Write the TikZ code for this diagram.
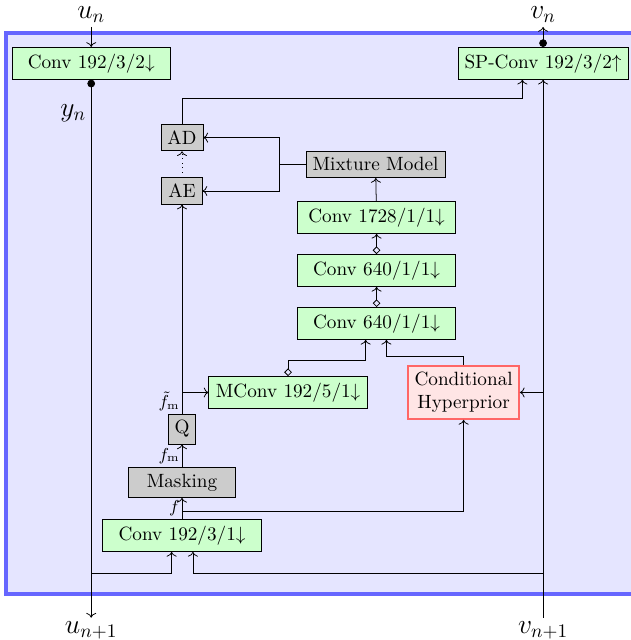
\documentclass[tikz,border=0pt]{standalone}
\usepackage{tikz}
\usetikzlibrary{arrows.meta}

\begin{document}
\begin{tikzpicture}
					\tikzstyle{every node}=[];
					\tikzstyle{convbox}=[draw, fill=green!20, minimum width=2.9cm];
					\tikzstyle{graybox}=[draw, fill=gray!40];
					\tikzstyle{hyperbox}=[draw=red!60, fill=red!10, line width=0.8pt, align=center];
					\tikzstyle{flabel}=[font=\small, inner sep=1pt];
					\tikzstyle{iolabel}=[font=\Large, inner sep=2pt];
					\tikzstyle{dtip}=[{Diamond[open,length=4pt,width=4pt]}->];
					\tikzstyle{ctip}=[{Circle[length=4pt]}->];
					\useasboundingbox (0,0) rectangle (11.54,11.72);
					\filldraw[fill=blue!10, draw=blue!60, line width=2pt] (0.11,0.842) rectangle (12.5,11.117);
					\path (1.67,11.45) node[iolabel] (un) {$u_n$};
					\path (9.945,11.45) node[iolabel] (vn) {$v_n$};
					\path (1.67,0.17) node[iolabel] (unext) {$u_{n+1}$};
					\path (9.945,0.17) node[iolabel] (vnext) {$v_{n+1}$};
					\path (1.34,9.65) node[iolabel] (yn) {$y_n$};
					\path (1.67,10.56) node[convbox] (convA) {Conv 192/3/2$\downarrow$};
					\path (9.945,10.56) node[convbox] (spconv) {SP-Conv 192/3/2$\uparrow$};
					\path (3.333,9.2) node[graybox] (ad) {AD};
					\path (3.333,8.223) node[graybox] (ae) {AE};
					\path (6.877,8.709) node[graybox] (mix) {Mixture Model};
					\path (6.896,7.738) node[convbox] (c1728) {Conv 1728/1/1$\downarrow$};
					\path (6.896,6.767) node[convbox] (c640a) {Conv 640/1/1$\downarrow$};
					\path (6.896,5.797) node[convbox] (c640b) {Conv 640/1/1$\downarrow$};
					\path (5.275,4.533) node[convbox] (mconv) {MConv 192/5/1$\downarrow$};
					\path (8.49,4.533) node[hyperbox] (hyper) {Conditional\\Hyperprior};
					\path (3.333,3.864) node[graybox] (q) {Q};
					\path (3.333,2.885) node[graybox, minimum width=1.95cm] (mask) {Masking};
					\path (3.333,1.914) node[convbox] (conv3) {Conv 192/3/1$\downarrow$};
					% outer connections
					\draw[->] (un) -- (convA);
					\draw[ctip] (convA.south) -- (unext);
					\draw[ctip] (spconv.north) -- (vn);
					\draw[->] (vnext) -- (spconv);
					% entropy coding part
					\draw[->] (ad.north) -- ++(0,0.46) -| ([xshift=-0.38cm]spconv.south);
					\draw[dotted,->] (ae) -- (ad);
					\draw (mix.west) -- ++(-0.48,0) coordinate (mixsplit);
					\draw[->] (mixsplit) |- (ad.east);
					\draw[->] (mixsplit) |- (ae.east);
					\draw[->] (c1728) -- (mix);
					\draw[dtip] (c640a) -- (c1728);
					\draw[dtip] (c640b) -- (c640a);
					\draw[dtip] (mconv.north) -- ++(0,0.29) -| ([xshift=-0.2cm]c640b.south);
					\draw[->] (hyper.north) -- ++(0,0.15) -| ([xshift=0.18cm]c640b.south);
					\draw[->] (vnext |- hyper.east) -- (hyper.east);
					% feature path
					\draw[->] (q) -- (ae);
					\draw[->] (q.north |- mconv.west) -- (mconv.west);
					\path (q.north) node[flabel, anchor=south east] (ftilde) {$\tilde{f}_\mathrm{m}$};
					\draw[->] (mask) -- node[flabel, left] (fmlab) {$f_\mathrm{m}$} (q);
					\draw[->] (conv3) -- node[flabel, left] (flab) {$f$} (mask);
					\coordinate (fsplit) at ([yshift=0.15cm]conv3.north);
					\draw[->] (fsplit) -| (hyper.south);
					\coordinate (ujoin) at (1.67,1.227);
					\coordinate (vjoin) at (9.945,1.227);
					\draw[->] (ujoin) -| ([xshift=-0.19cm]conv3.south);
					\draw[->] (vjoin) -| ([xshift=0.2cm]conv3.south);
					\end{tikzpicture}
\end{document}
